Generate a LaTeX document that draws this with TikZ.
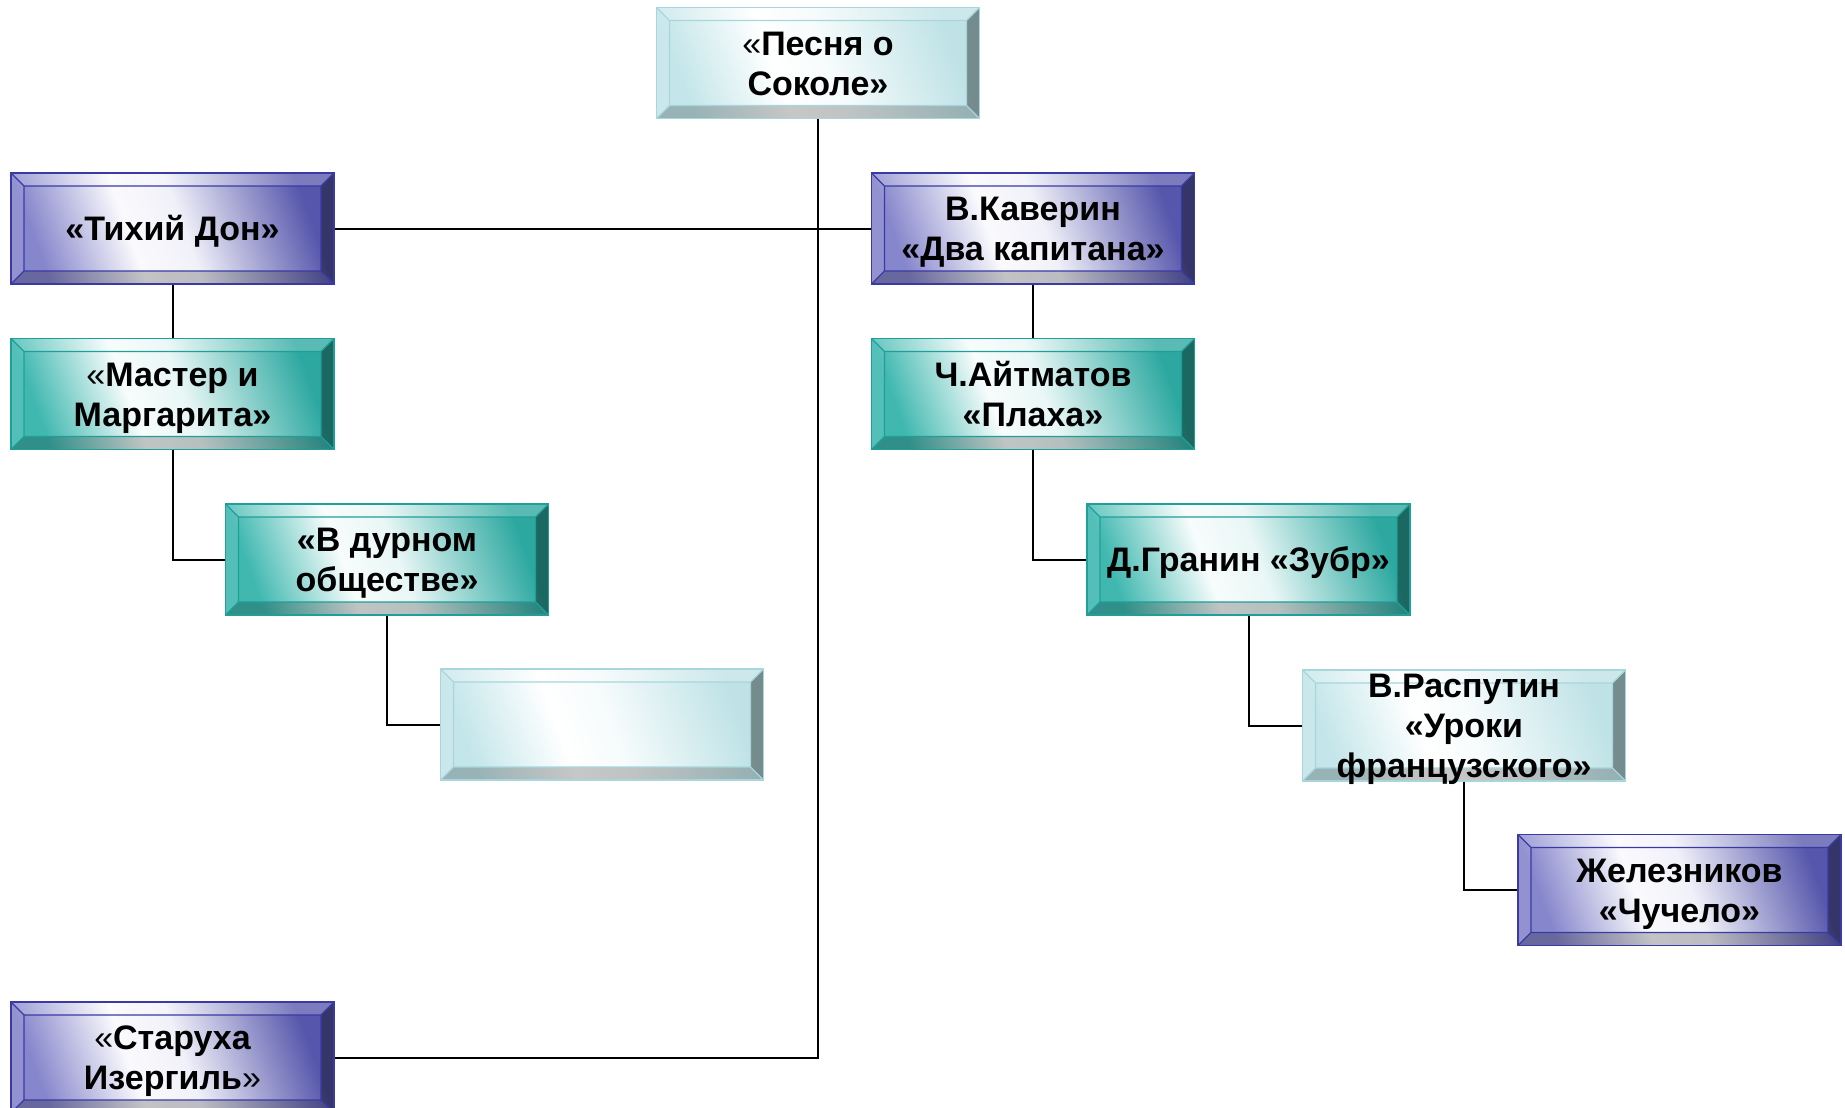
\documentclass[tikz,border=0pt]{standalone}
\usepackage{fontspec}
\setmainfont{Liberation Sans}
\definecolor{blueL}{RGB}{134,134,204}
\definecolor{blueD}{RGB}{86,86,172}
\definecolor{blueB}{RGB}{58,58,165}
\definecolor{tealL}{RGB}{64,184,176}
\definecolor{tealD}{RGB}{44,168,160}
\definecolor{tealB}{RGB}{30,160,152}
\definecolor{cyanL}{RGB}{196,230,234}
\definecolor{cyanD}{RGB}{190,226,230}
\definecolor{cyanB}{RGB}{168,214,220}
\pgfdeclarehorizontalshading{blsh}{100bp}{color(0bp)=(blueL); color(25bp)=(blueL); color(42bp)=(white!96!blueL); color(52bp)=(white!88!blueL); color(75bp)=(blueD); color(100bp)=(blueD)}
\pgfdeclarehorizontalshading{tlsh}{100bp}{color(0bp)=(tealL); color(25bp)=(tealL); color(42bp)=(white!96!tealL); color(52bp)=(white!88!tealL); color(75bp)=(tealD); color(100bp)=(tealD)}
\pgfdeclarehorizontalshading{cysh}{100bp}{color(0bp)=(cyanL); color(25bp)=(cyanL); color(42bp)=(white); color(52bp)=(white!85!cyanL); color(75bp)=(cyanD); color(100bp)=(cyanD)}
\newcommand{\bevelpic}[1]{%
  \coordinate (bSW) at (path picture bounding box.south west);
  \coordinate (bNE) at (path picture bounding box.north east);
  \coordinate (bNW) at (path picture bounding box.north west);
  \coordinate (bSE) at (path picture bounding box.south east);
  \coordinate (iNW) at ([shift={(13pt,-13pt)}]bNW);
  \coordinate (iNE) at ([shift={(-13pt,-13pt)}]bNE);
  \coordinate (iSW) at ([shift={(13pt,13pt)}]bSW);
  \coordinate (iSE) at ([shift={(-13pt,13pt)}]bSE);
  \fill[white,opacity=.22] (bNW) -- (bNE) -- (iNE) -- (iNW) -- cycle;
  \fill[white,opacity=.10] (bNW) -- (iNW) -- (iSW) -- (bSW) -- cycle;
  \fill[black,opacity=.38] (bNE) -- (bSE) -- (iSE) -- (iNE) -- cycle;
  \fill[black,opacity=.22] (bSW) -- (iSW) -- (iSE) -- (bSE) -- cycle;
  \draw[#1,line width=1.2pt] (iNW) rectangle (iSE)
    (bNW) -- (iNW) (bNE) -- (iNE) (bSW) -- (iSW) (bSE) -- (iSE);
}
\tikzset{
  bbase/.style={rectangle, minimum width=323pt, minimum height=111pt,
    inner sep=0pt, align=center, text=black,
    font=\bfseries\fontsize{34}{40}\selectfont,
    line width=1.8pt, path picture={\bevelpic{#1}}},
  bluebox/.style={bbase=blueB, draw=blueB, shade, shading=blsh, shading angle=20},
  tealbox/.style={bbase=tealB, draw=tealB, shade, shading=tlsh, shading angle=20},
  cyanbox/.style={bbase=cyanB, draw=cyanB, shade, shading=cysh, shading angle=20},
  conn/.style={draw=black, line width=2pt}
}
\newcommand{\thinq}[1]{{\mdseries #1}}
\newcommand{\tb}{\rule{0pt}{33pt}}
\newcommand{\te}{\rule[-8.7pt]{0pt}{8.7pt}}
\begin{document}
\begin{tikzpicture}[x=1pt,y=-1pt]
\clip (0,0) rectangle (1845,1108);
\fill[white] (0,0) rectangle (1845,1108);
\node[cyanbox] (pesnya) at (818,63) {\tb\thinq{«}Песня о\\Соколе»\te};
\node[bluebox] (tihiy) at (172.5,228.5) {\tb«Тихий Дон»\te};
\node[tealbox] (master) at (172.5,394) {\tb\thinq{«}Мастер и\\Маргарита»\te};
\node[tealbox] (durnom) at (387,559.5) {\tb«В дурном\\обществе»\te};
\node[cyanbox] (empty) at (602,724.5) {};
\node[bluebox] (staruha) at (172.5,1057.5) {\tb\thinq{«}Старуха\\Изергиль\thinq{»}\te};
\node[bluebox] (kaverin) at (1033,228.5) {\tb В.Каверин\\«Два капитана»\te};
\node[tealbox] (aitm) at (1033,394) {\tb Ч.Айтматов\\«Плаха»\te};
\node[tealbox] (granin) at (1248.5,559.5) {\tb Д.Гранин «Зубр»\te};
\node[cyanbox, inner ysep=-20pt] (rasput) at (1464,725.5) {\tb В.Распутин\\«Уроки\\французского»\te};
\node[bluebox] (zhelez) at (1679.5,890) {\tb Железников\\«Чучело»\te};
\draw[conn] (pesnya.south) |- (staruha.east);
\draw[conn] (tihiy.east) -- (kaverin.west);
\draw[conn] (tihiy.south) -- (master.north);
\draw[conn] (master.south) |- (durnom.west);
\draw[conn] (durnom.south) |- (empty.west);
\draw[conn] (kaverin.south) -- (aitm.north);
\draw[conn] (aitm.south) |- (granin.west);
\draw[conn] (granin.south) |- (rasput.west);
\draw[conn] (rasput.south) |- (zhelez.west);
\end{tikzpicture}
\end{document}
